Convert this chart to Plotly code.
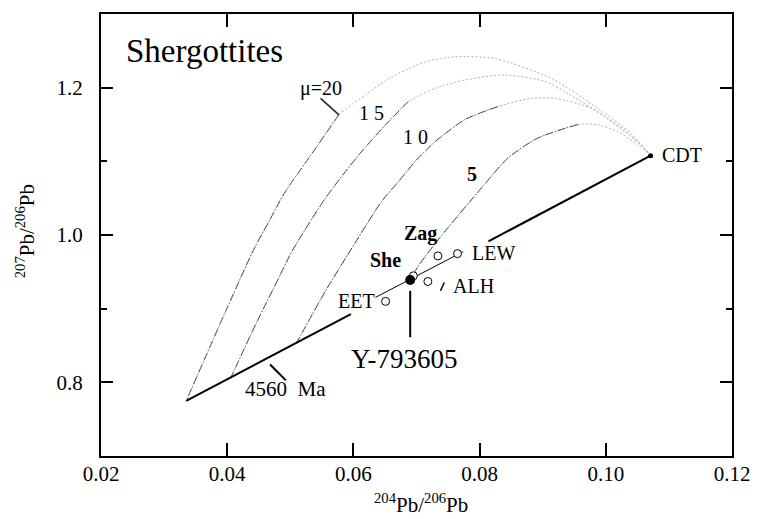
import plotly.graph_objects as go

# ---------------- data ----------------
# growth curves, listed from CDT (4560 Ma) to present day
mu5_x = [0.1071, 0.1050, 0.1019, 0.0987, 0.0956, 0.0892, 0.0845, 0.0803, 0.0737, 0.0703, 0.0690]
mu5_y = [1.1077, 1.1226, 1.1405, 1.1496, 1.1500, 1.1315, 1.1045, 1.0639, 0.9964, 0.9581, 0.9388]
mu5_split = 4

mu10_x = [0.1071, 0.1055, 0.1029, 0.0977, 0.0919, 0.0882, 0.0829, 0.0777, 0.0730, 0.0698, 0.0672, 0.0645, 0.0598, 0.0556, 0.0509]
mu10_y = [1.1077, 1.1230, 1.1405, 1.1720, 1.1855, 1.1855, 1.1743, 1.1568, 1.1270, 1.1000, 1.0730, 1.0459, 0.9828, 0.9243, 0.8523]
mu10_split = 6

mu15_x = [0.1071, 0.1039, 0.1003, 0.0935, 0.0906, 0.0840, 0.0777, 0.0730, 0.0687, 0.0651, 0.0609, 0.0556, 0.0503, 0.0482, 0.0447, 0.0406]
mu15_y = [1.1077, 1.1365, 1.1585, 1.1946, 1.2080, 1.2172, 1.2104, 1.1991, 1.1811, 1.1496, 1.1091, 1.0504, 0.9784, 0.9423, 0.8820, 0.8068]
mu15_split = 8

mu20_x = [0.1071, 0.1040, 0.0990, 0.0915, 0.0824, 0.0761, 0.0714, 0.0661, 0.0619, 0.0577, 0.0538, 0.0490, 0.0466, 0.0443, 0.0398, 0.0335]
mu20_y = [1.1077, 1.1380, 1.1700, 1.2120, 1.2396, 1.2419, 1.2351, 1.2149, 1.1901, 1.1631, 1.1150, 1.0560, 1.0180, 0.9820, 0.8973, 0.7747]
mu20_split = 9

# 4560 Ma geochron (drawn in two heavy pieces) and the thin line through the samples
geo_low_x = [0.0335, 0.0596]
geo_low_y = [0.7747, 0.8925]
geo_high_x = [0.0814, 0.1071]
geo_high_y = [0.9914, 1.1077]
thin_x = [0.0635, 0.0774]
thin_y = [0.9153, 0.9774]

# samples
sample_names = ["EET", "She", "ALH", "Zag", "LEW"]
sample_x = [0.0651, 0.0695, 0.0718, 0.0734, 0.0765]
sample_y = [0.9099, 0.9446, 0.9369, 0.9716, 0.9747]
y79_x = [0.0690]
y79_y = [0.9388]
cdt_x = [0.1071]
cdt_y = [1.1077]

# pointer strokes
ptr_mu20_x = [0.0548, 0.0577]
ptr_mu20_y = [1.1855, 1.1631]
ptr_4560_x = [0.0468, 0.0493]
ptr_4560_y = [0.8243, 0.8027]
ptr_y79_x = [0.0690, 0.0690]
ptr_y79_y = [0.9243, 0.8612]
ptr_alh_x = [0.0738, 0.0744]
ptr_alh_y = [0.9243, 0.9355]

# labels (text, x, y, bold)
labels = [
    ("\u03bc=20", 0.0548, 1.1991, False),
    ("1 5", 0.0629, 1.1662, False),
    ("1 0", 0.0698, 1.1327, False),
    ("5", 0.0788, 1.0831, True),
    ("Zag", 0.0707, 1.0027, True),
    ("She", 0.0651, 0.9658, True),
    ("EET", 0.0605, 0.9108, False),
    ("LEW", 0.0822, 0.9761, False),
    ("ALH", 0.0790, 0.9311, False),
    ("CDT", 0.1120, 1.1081, False),
]
big_label = ("Y-793605", 0.0681, 0.8311)
age_label = ("4560  Ma", 0.0493, 0.7905)

x_ticks = [0.02, 0.04, 0.06, 0.08, 0.10, 0.12]
x_ticktext = ["0.02", "0.04", "0.06", "0.08", "0.10", "0.12"]
y_ticks = [0.8, 1.0, 1.2]
y_ticktext = ["0.8", "1.0", "1.2"]
y_minor = [0.9, 1.1]

FONT = "Liberation Serif, Times New Roman, serif"

fig = go.Figure()

def add_line(x, y, color="black", width=1, dash="solid", shape="spline"):
    fig.add_trace(go.Scatter(x=x, y=y, mode="lines", hoverinfo="skip",
                             line=dict(color=color, width=width, dash=dash, shape=shape, smoothing=0.7)))

for cx, cy, sp in [(mu20_x, mu20_y, mu20_split), (mu15_x, mu15_y, mu15_split),
                   (mu10_x, mu10_y, mu10_split), (mu5_x, mu5_y, mu5_split)]:
    # faint dotted early part (near CDT), then darker dash-dot later part
    add_line(cx, cy, color="#b0b0b0", width=1, dash="2px,2px")
    add_line(cx[sp:], cy[sp:], color="#505050", width=1, dash="8px,2px,1px,2px")

add_line(geo_low_x, geo_low_y, width=2, shape="linear")
add_line(geo_high_x, geo_high_y, width=2, shape="linear")
add_line(thin_x, thin_y, width=1, shape="linear")
add_line(ptr_mu20_x, ptr_mu20_y, color="#222", width=1.5, shape="linear")
add_line(ptr_4560_x, ptr_4560_y, width=2, shape="linear")
add_line(ptr_y79_x, ptr_y79_y, width=2, shape="linear")
add_line(ptr_alh_x, ptr_alh_y, width=1.5, shape="linear")

fig.add_trace(go.Scatter(x=sample_x, y=sample_y, mode="markers", hoverinfo="skip",
                         marker=dict(symbol="circle", size=8, color="white",
                                     line=dict(color="black", width=1))))
fig.add_trace(go.Scatter(x=y79_x, y=y79_y, mode="markers", hoverinfo="skip",
                         marker=dict(symbol="circle", size=10, color="black")))
fig.add_trace(go.Scatter(x=cdt_x, y=cdt_y, mode="markers", hoverinfo="skip",
                         marker=dict(symbol="circle", size=5, color="black")))

for txt, lx, ly, bold in labels:
    fig.add_annotation(x=lx, y=ly, text=("<b>%s</b>" % txt) if bold else txt, showarrow=False,
                       font=dict(family=FONT, size=20, color="black"))
fig.add_annotation(x=big_label[1], y=big_label[2], text=big_label[0], showarrow=False,
                   font=dict(family=FONT, size=27, color="black"))
fig.add_annotation(x=age_label[1], y=age_label[2], text=age_label[0], showarrow=False,
                   font=dict(family=FONT, size=21, color="black"))

fig.add_annotation(xref="paper", yref="paper", x=0.036, y=0.917, xanchor="left", yanchor="middle",
                   text="Shergottites", showarrow=False,
                   font=dict(family=FONT, size=33, color="black"))
fig.add_annotation(xref="paper", yref="paper", x=0.507, y=-0.108, xanchor="center", yanchor="middle",
                   showarrow=False, text="<sup>204</sup>Pb/<sup>206</sup>Pb",
                   font=dict(family=FONT, size=21, color="black"))
fig.add_annotation(xref="paper", yref="paper", x=-0.12, y=0.509, xanchor="center", yanchor="middle",
                   showarrow=False, textangle=-90,
                   text="<sup>207</sup>Pb/<sup>206</sup>Pb",
                   font=dict(family=FONT, size=21, color="black"))

fig.update_xaxes(range=[0.02, 0.12], tickvals=x_ticks, ticktext=x_ticktext,
                 showline=True, linewidth=2, linecolor="black", mirror="ticks",
                 ticks="inside", ticklen=13, tickwidth=2, tickcolor="black",
                 showgrid=False, zeroline=False, ticklabelstandoff=-2,
                 tickfont=dict(family=FONT, size=21, color="black"))
fig.update_yaxes(range=[0.70, 1.30], tickvals=y_ticks, ticktext=y_ticktext,
                 showline=True, linewidth=2, linecolor="black", mirror="ticks",
                 ticks="inside", ticklen=12, tickwidth=2, tickcolor="black",
                 minor=dict(tickvals=y_minor, ticks="inside", ticklen=6, tickwidth=2, tickcolor="black"),
                 showgrid=False, zeroline=False, ticklabelstandoff=12,
                 tickfont=dict(family=FONT, size=21, color="black"))

fig.update_layout(width=762, height=519, margin=dict(l=101, r=27, t=12, b=63),
                  plot_bgcolor="white", paper_bgcolor="white", showlegend=False,
                  hovermode=False)

fig.write_html("out.html")
